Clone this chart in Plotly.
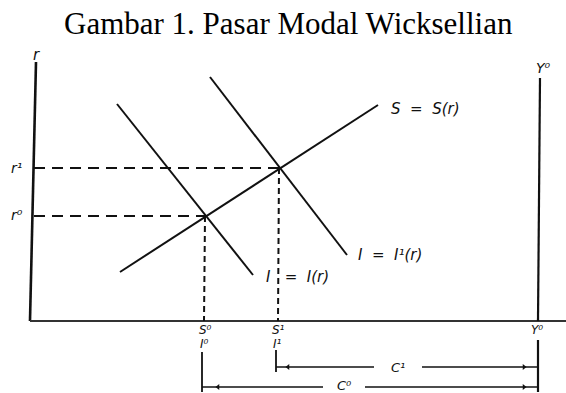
import plotly.graph_objects as go

# ---- diagram data (abstract units: quantity on x, interest rate on y) ----
title_text = "Gambar 1. Pasar Modal Wicksellian"

# equilibrium points
r0, r1 = 105, 153          # interest rates r0, r1
s0, s1 = 176, 250          # savings/investment S0=I0, S1=I1
y0 = 508                   # income Y0

# schedules (end points)
S_x = [90, 348]
S_y = [49, 216]
I_x = [87, 223]
I_y = [217, 46]
I1_x = [180, 317]
I1_y = [244, 66]

# axes
axis_v_x = [0, 6]
axis_v_y = [0, 259]
axis_h_x = [0, 536]
axis_h_y = [0, 0]
yline_x = [y0, y0 + 2]
yline_y = [0, 243]
yline_low_y = [-19, -71]

# brackets C1 and C0
c1_y = -46
c1_parts = [[s1 - 4, 344], [392, y0 - 1]]
c1_tick_y = [-29, -51]
c0_y = -66
c0_parts = [[s0 - 4, 293], [335, y0 - 1]]
c0_tick_y = [-31, -71]

INK = "#111111"
fig = go.Figure()

def line(x, y, width=2.0, dash=None, color=INK):
    fig.add_trace(go.Scatter(x=x, y=y, mode="lines",
                             line=dict(color=color, width=width, dash=dash),
                             hoverinfo="skip", showlegend=False))

# axes
line(axis_v_x, axis_v_y, 2.6)
line(axis_h_x, axis_h_y, 2.0, color="#333333")
line(yline_x, yline_y, 2.2)
line([y0, y0], yline_low_y, 2.2)

# schedules
line(S_x, S_y, 2.0)
line(I_x, I_y, 2.0)
line(I1_x, I1_y, 2.0)

# dashed guides
line([4, s0], [r0, r0], 1.8, dash="11px,7px")
line([4, s1], [r1, r1], 1.8, dash="11px,7px")
line([s0 - 1, s0 - 2], [r0, 0], 2.0, dash="6px,4px")
line([s1 - 1, s1 - 2], [r1, 0], 2.0, dash="6px,4px")

# brackets
line([s1 - 4, s1 - 4], c1_tick_y, 1.8)
for p in c1_parts:
    line(p, [c1_y, c1_y], 1.6)
line([s0 - 4, s0 - 4], c0_tick_y, 1.8)
for p in c0_parts:
    line(p, [c0_y, c0_y], 1.6)

# small arrowheads on bracket lines
fig.add_trace(go.Scatter(
    x=[s1 + 8, y0 - 14, s0 + 12, y0 - 14],
    y=[c1_y, c1_y, c0_y, c0_y],
    mode="markers",
    marker=dict(symbol=["triangle-left", "triangle-right", "triangle-left", "triangle-right"],
                size=5, color=INK),
    hoverinfo="skip", showlegend=False))

LF = "DejaVu Sans"
def label(x, y, text, size=14):
    fig.add_annotation(x=x, y=y, xref="x", yref="y", text=text, showarrow=False,
                       font=dict(family=LF, size=size, color=INK))

label(6, 266, "<i>r</i>", 15)
label(-14, 153, "<i>r¹</i>")
label(-13, 106, "<i>r⁰</i>")
label(513, 253, "<i>Y⁰</i>")
label(395, 212, "<i>S  =  S(r)</i>", 15)
label(360, 66, "<i>I  =  I¹(r)</i>", 15)
label(267, 44, "<i>I   =  I(r)</i>", 15)
label(s0 - 1, -9, "<i>S⁰</i>", 12)
label(s1 - 2, -9, "<i>S¹</i>", 12)
label(y0 - 1, -9, "<i>Y⁰</i>", 12)
label(s0 - 2, -23, "<i>I⁰</i>", 12)
label(s1 - 3, -23, "<i>I¹</i>", 12)
label(368, -46, "<i>C¹</i>", 13)
label(314, -64, "<i>C⁰</i>", 13)

fig.add_annotation(x=258, y=298, xref="x", yref="y", text=title_text, showarrow=False,
                   xanchor="center", yanchor="middle",
                   font=dict(family="Liberation Serif", size=31, color="#000000"))

fig.update_layout(
    width=566, height=393,
    margin=dict(l=0, r=0, t=0, b=0),
    paper_bgcolor="white", plot_bgcolor="white",
    xaxis=dict(range=[-30, 536], visible=False, fixedrange=True),
    yaxis=dict(range=[-72, 321], visible=False, fixedrange=True),
    showlegend=False,
)

# remove the page's default body margin so the figure fills the window
fig.write_html("out.html",
               config={"displayModeBar": False, "staticPlot": True},
               post_script="document.body.style.margin='0px';document.body.style.overflow='hidden';")
